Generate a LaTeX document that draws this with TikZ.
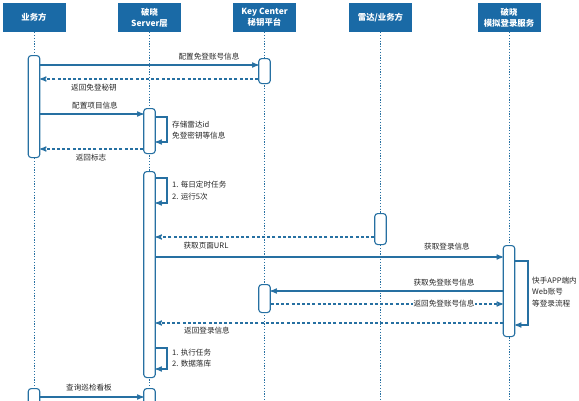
\documentclass[tikz,border=0pt]{standalone}
\usepackage{fontspec}
\setmainfont{Noto Sans CJK SC}
\usepackage{xcolor}
\usetikzlibrary{arrows}
\definecolor{headblue}{RGB}{26,106,166}
\definecolor{lineblue}{RGB}{38,112,162}
\tikzset{
	head node/.style={rectangle,fill=headblue,text=white,font=\fontsize{8.4}{11}\selectfont\bfseries,
		align=center,minimum width=63pt,minimum height=29pt,inner sep=1pt},
	act node/.style={rectangle,draw=lineblue,fill=white,line width=1.1pt,rounded corners=3pt,
		minimum width=11.5pt,inner sep=0pt,anchor=north},
	life/.style={draw=lineblue,line width=0.9pt,dash pattern=on 1.2pt off 1.6pt},
	msg/.style={->,>=stealth',draw=lineblue,line width=1.2pt},
	ret/.style={msg,dash pattern=on 3pt off 2.2pt},
	msg label/.style={font=\fontsize{7.6}{11.5}\selectfont,text=black!85,inner sep=1pt},
	note node/.style={msg label,align=left,anchor=west}
}

\begin{document}
\begin{tikzpicture}[x=1pt,y=-1pt]
	\useasboundingbox (0,0) rectangle (579,400);
	\clip (0,0) rectangle (579,400);
	% participants
	\node [head node] (biz) at (34,17.5) {业务方};
	\node [head node] (srv) at (149.5,17.5) {破晓\\Server层};
	\node [head node] (kc) at (264.5,17.5) {Key Center\\秘钥平台};
	\node [head node] (radar) at (380.5,17.5) {雷达/业务方};
	\node [head node] (sim) at (509,17.5) {破晓\\模拟登录服务};
	\foreach \p in {biz,srv,kc,radar,sim}
		\draw [life] (\p.south) -- (\p.south |- 0,400);
	% activations
	\node [act node,minimum height=102pt] (biz1) at (34,55) {};
	\node [act node,minimum height=25pt] (kc1) at (264.5,58) {};
	\node [act node,minimum height=45pt] (srv1) at (149.5,108) {};
	\node [act node,minimum height=206pt] (srv2) at (149.5,171) {};
	\node [act node,minimum height=31pt] (radar1) at (380.5,213) {};
	\node [act node,minimum height=91pt] (sim1) at (509,245) {};
	\node [act node,minimum height=28pt] (kc2) at (264.5,284) {};
	\node [act node,minimum height=30pt] (biz2) at (34,388) {};
	\node [act node,minimum height=30pt] (srv3) at (149.5,388) {};
	% messages
	\draw [msg] (biz1.east |- 0,65) -- (kc1.west |- 0,65);
	\node [msg label] (t1) at (209,57) {配置免登账号信息};
	\draw [ret] (kc1.west |- 0,79) -- (biz1.east |- 0,79);
	\node [msg label] (t2) at (94,88) {返回免登秘钥};
	\draw [msg] (biz1.east |- 0,114) -- (srv1.west |- 0,114);
	\node [msg label] (t3) at (95,106) {配置项目信息};
	\draw [msg] (srv1.east |- 0,117) -| (167,142) -- (srv1.east |- 0,142);
	\node [note node] (t4) at (171,130) {存储雷达id\\免登密钥等信息};
	\draw [ret] (srv1.west |- 0,149) -- (biz1.east |- 0,149);
	\node [msg label] (t5) at (91,158) {返回标志};
	\draw [msg] (srv2.east |- 0,178) -| (167,203) -- (srv2.east |- 0,203);
	\node [note node] (t6) at (171,190.5) {1. 每日定时任务\\2. 运行5次};
	\draw [ret] (radar1.west |- 0,237) -- (srv2.east |- 0,237);
	\node [msg label] (t7) at (206,246) {获取页面URL};
	\draw [msg] (srv2.east |- 0,257) -- (sim1.west |- 0,257);
	\node [msg label] (t8) at (447,247) {获取登录信息};
	\draw [msg] (sim1.east |- 0,261) -| (528,325) -- (sim1.east |- 0,325);
	\node [note node] (t9) at (531,292) {快手APP端内\\Web账号\\等登录流程};
	\draw [msg] (sim1.west |- 0,291) -- (kc2.east |- 0,291);
	\node [msg label] (t10) at (444,283) {获取免登账号信息};
	\draw [ret] (kc2.east |- 0,304) -- (sim1.west |- 0,304);
	\node [msg label,fill=white] (t11) at (444,304) {返回免登账号信息};
	\draw [ret] (sim1.west |- 0,323) -- (srv2.east |- 0,323);
	\node [msg label] (t12) at (207,331) {返回登录信息};
	\draw [msg] (srv2.east |- 0,348) -| (167,369) -- (srv2.east |- 0,369);
	\node [note node] (t13) at (171,358) {1. 执行任务\\2. 数据落库};
	\draw [msg] (biz2.east |- 0,397) -- (srv3.west |- 0,397);
	\node [msg label] (t14) at (89,388) {查询巡检看板};
\end{tikzpicture}
\end{document}
